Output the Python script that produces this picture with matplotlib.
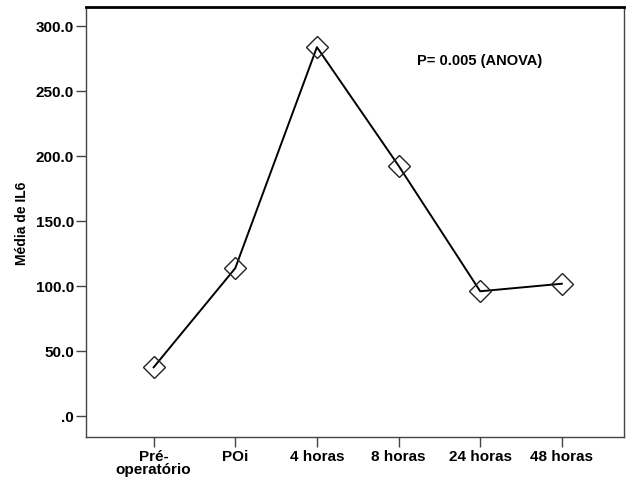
import matplotlib
matplotlib.use('Agg')
import matplotlib.pyplot as plt

plt.rcParams['font.family'] = 'Liberation Sans'

# dados
categorias = ['Pré-\noperatório', 'POi', '4 horas', '8 horas', '24 horas', '48 horas']
media_il6 = [37.2, 113.5, 283.5, 192.3, 95.7, 101.5]
yticks = [0, 50, 100, 150, 200, 250, 300]
ytick_labels = ['.0', '50.0', '100.0', '150.0', '200.0', '250.0', '300.0']

fig = plt.figure(figsize=(6.27, 4.85), dpi=100)
ax = fig.add_axes([0.137, 0.0975, 0.858, 0.886])

x = list(range(len(categorias)))
ax.plot(x, media_il6, color='black', linewidth=1.4,
        marker='D', markersize=11, markerfacecolor='none',
        markeredgecolor='#222222', markeredgewidth=1.0)

ax.set_xlim(-0.83, 5.76)
ax.set_ylim(-16.2, 314.4)
ax.set_xticks(x)
ax.set_xticklabels(categorias, fontsize=11, fontweight='bold', linespacing=0.95)
ax.set_yticks(yticks)
ax.set_yticklabels(ytick_labels, fontsize=11, fontweight='bold')
ax.tick_params(direction='out', length=7, width=1, color='#444444', pad=1.5)
ax.set_ylabel('Média de IL6', fontsize=10, fontweight='bold', labelpad=5)

for s in ['left', 'bottom', 'right']:
    ax.spines[s].set_color('#444444')
    ax.spines[s].set_linewidth(1.0)
ax.spines['top'].set_linewidth(2.0)

ax.text(3.22, 274, 'P= 0.005 (ANOVA)', fontsize=10.5, fontweight='bold',
        ha='left', va='center')

fig.savefig('out.png', dpi=100)
